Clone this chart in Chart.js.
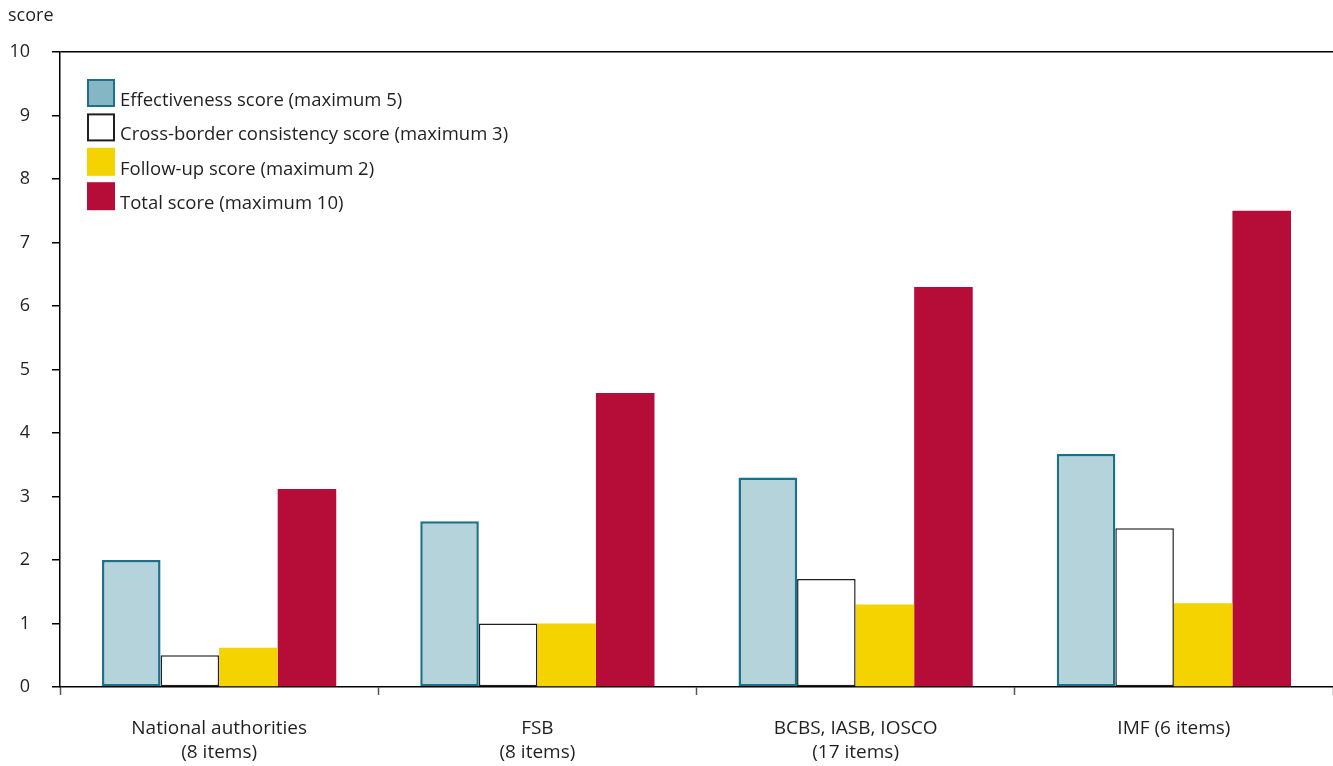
<!DOCTYPE html>
<html>
<head>
<meta charset="utf-8">
<script src="https://cdn.jsdelivr.net/npm/chart.js@4"></script>
<style>
  body { margin: 0; background: #fff; }
  #wrap { width: 1333px; height: 766px; position: relative; }
</style>
</head>
<body>
<div id="wrap"><canvas id="scoreChart"></canvas></div>
<script>
// data
const categories = [
    ["National authorities", "(8 items)"],
    ["FSB", "(8 items)"],
    ["BCBS, IASB, IOSCO", "(17 items)"],
    ["IMF (6 items)"]
];
const seriesNames = [
    "Effectiveness score (maximum 5)",
    "Cross-border consistency score (maximum 3)",
    "Follow-up score (maximum 2)",
    "Total score (maximum 10)"
];
const effectiveness = [2.0, 2.61, 3.3, 3.67];
const crossBorder = [0.5, 1.0, 1.7, 2.5];
const followUp = [0.62, 1.0, 1.3, 1.32];
const total = [3.12, 4.63, 6.3, 7.5];
const yTicks = [0, 1, 2, 3, 4, 5, 6, 7, 8, 9, 10];

const FONT = "'Open Sans', 'DejaVu Sans', sans-serif";
const TEXT = "#231f20";

// legend swatches (fill, border)
const swatches = [
    ["#84b6c3", "#1b718a"],
    ["#ffffff", "#231f20"],
    ["#f5d300", null],
    ["#b50d37", null]
];

const extrasPlugin = {
    id: "extras",
    afterDraw(chart) {
        const ctx = chart.ctx;
        const area = chart.chartArea;
        ctx.save();
        ctx.fillStyle = TEXT;
        ctx.font = "18px " + FONT;
        ctx.textAlign = "left";
        ctx.textBaseline = "alphabetic";
        ctx.fillText("score", 8, 21);

        const bx = area.left + 27;
        let by = area.top + 27;
        chart.data.datasets.forEach((ds, i) => {
            const [fill, border] = swatches[i];
            ctx.fillStyle = fill;
            ctx.fillRect(bx, by, 28, 28);
            if (border) {
                ctx.strokeStyle = border;
                ctx.lineWidth = 2;
                ctx.strokeRect(bx + 1, by + 1, 26, 26);
            }
            ctx.fillStyle = TEXT;
            ctx.font = "18.5px " + FONT;
            ctx.fillText(ds.label, bx + 33, by + 27);
            by += 34.4;
        });
        ctx.restore();
    }
};

const ctx = document.getElementById("scoreChart").getContext("2d");
new Chart(ctx, {
    type: "bar",
    data: {
        labels: categories,
        datasets: [
            {
                label: seriesNames[0],
                data: effectiveness,
                backgroundColor: "#b5d3da",
                borderColor: "#1b718a",
                borderWidth: 2.5,
                borderSkipped: false
            },
            {
                label: seriesNames[1],
                data: crossBorder,
                backgroundColor: "#ffffff",
                borderColor: "#231f20",
                borderWidth: 1.5,
                borderSkipped: false
            },
            {
                label: seriesNames[2],
                data: followUp,
                backgroundColor: "#f5d300",
                borderWidth: 0
            },
            {
                label: seriesNames[3],
                data: total,
                backgroundColor: "#b50d37",
                borderWidth: 0
            }
        ]
    },
    options: {
        responsive: true,
        maintainAspectRatio: false,
        animation: false,
        layout: { padding: { left: 0, top: 52, right: 0, bottom: 0 } },
        datasets: {
            bar: { barPercentage: 1, categoryPercentage: 0.736 }
        },
        plugins: {
            legend: { display: false },
            tooltip: { enabled: false }
        },
        scales: {
            x: {
                grid: {
                    offset: true,
                    drawOnChartArea: false,
                    drawTicks: true,
                    tickLength: 8,
                    tickColor: "#555",
                    tickWidth: 1.5
                },
                border: { color: "#000", width: 1.5 },
                ticks: {
                    color: TEXT,
                    padding: 22,
                    font: { family: FONT, size: 19, lineHeight: 1.26 },
                    maxRotation: 0
                },
                afterFit(scale) { scale.height = 79; }
            },
            y: {
                min: 0,
                max: 10,
                afterBuildTicks(scale) { scale.ticks = yTicks.map(v => ({ value: v })); },
                grid: {
                    drawOnChartArea: true,
                    color: c => (c.tick && c.tick.value === 10 ? "#000" : "rgba(0,0,0,0)"),
                    lineWidth: 1.5,
                    tickColor: "#000",
                    tickLength: 8,
                    tickWidth: 1.5
                },
                border: { color: "#000", width: 1.5 },
                ticks: {
                    color: TEXT,
                    padding: 22,
                    font: { family: FONT, size: 18 }
                },
                afterFit(scale) { scale.width = 60; }
            }
        }
    },
    plugins: [extrasPlugin]
});
</script>
</body>
</html>
